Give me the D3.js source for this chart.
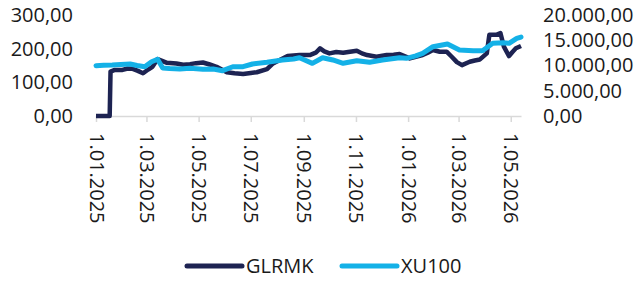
<!DOCTYPE html>
<html><head><meta charset="utf-8">
<script src="https://cdn.jsdelivr.net/npm/d3@7"></script>
<style>
html,body{margin:0;padding:0;background:#fff;}
svg{display:block;font-family:"Open Sans",sans-serif;}
</style></head>
<body><svg id="c" width="639" height="285"></svg>
<script>
const glrmkDates = ["2025-01-01","2025-01-10","2025-01-17","2025-01-18","2025-01-23","2025-02-01","2025-02-07","2025-02-13","2025-02-19","2025-02-25","2025-03-03","2025-03-08","2025-03-14","2025-03-20","2025-03-25","2025-04-05","2025-04-13","2025-04-21","2025-04-28","2025-05-06","2025-05-14","2025-05-22","2025-06-03","2025-06-12","2025-06-22","2025-07-01","2025-07-08","2025-07-20","2025-07-27","2025-08-05","2025-08-13","2025-08-27","2025-09-08","2025-09-15","2025-09-20","2025-09-25","2025-10-01","2025-10-09","2025-10-17","2025-10-25","2025-11-02","2025-11-08","2025-11-14","2025-11-25","2025-12-07","2025-12-15","2025-12-22","2026-01-03","2026-01-10","2026-01-18","2026-01-24","2026-01-30","2026-02-07","2026-02-15","2026-02-21","2026-02-27","2026-03-05","2026-03-14","2026-03-20","2026-03-26","2026-04-03","2026-04-06","2026-04-14","2026-04-19","2026-04-23","2026-04-29","2026-05-03","2026-05-07","2026-05-13"];
const glrmkValues = [0,0,0,132,137,137,141,140,134,127,138,146,169,163,158,156,152,154,157,159,153,146,130,127,125,128,130,139,156,168,178,181,181,188,201,192,186,190,188,191,194,186,181,176,181,182,184,171,176,181,188,196,191,191,176,160,151,161,165,168,186,241,241,246,206,178,190,201,208];
const xuDates = ["2025-01-01","2025-01-10","2025-01-20","2025-01-30","2025-02-10","2025-02-18","2025-02-27","2025-03-07","2025-03-14","2025-03-20","2025-03-28","2025-04-09","2025-04-21","2025-05-06","2025-05-18","2025-05-29","2025-06-10","2025-06-22","2025-07-03","2025-07-20","2025-08-07","2025-08-20","2025-08-27","2025-08-31","2025-09-11","2025-09-23","2025-10-05","2025-10-17","2025-11-02","2025-11-17","2025-12-02","2025-12-22","2025-12-30","2026-01-10","2026-01-18","2026-01-30","2026-02-16","2026-03-02","2026-03-18","2026-03-29","2026-04-10","2026-04-22","2026-04-29","2026-05-08","2026-05-13"];
const xuValues = [9960,10050,10100,10200,10300,10000,9760,10750,11230,9500,9400,9300,9440,9250,9300,8970,9760,9760,10300,10630,11090,11300,11540,11230,10430,11540,11090,10430,10950,10630,11090,11540,11420,11900,12410,13720,14260,13070,12930,12930,14390,14510,14390,15380,15640];
const xTickDates = ["2025-01-01","2025-03-01","2025-05-01","2025-07-01","2025-09-01","2025-11-01","2026-01-01","2026-03-01","2026-05-01"];
const leftTicks = [0,100,200,300];
const rightTicks = [0,5000,10000,15000,20000];
const seriesNames = ["GLRMK","XU100"];
const colors = ["#1d2352","#14b1e7"];

const parse = d3.timeParse("%Y-%m-%d");
const svg = d3.select("#c");
const g1 = glrmkDates.map((d,i)=>({date:parse(d),v:glrmkValues[i]}));
const g2 = xuDates.map((d,i)=>({date:parse(d),v:xuValues[i]}));

const x = d3.scaleTime().domain([parse("2025-01-01"), parse("2026-05-13")]).range([96, 521]);
const yL = d3.scaleLinear().domain([0,300]).range([116,15]);
const yR = d3.scaleLinear().domain([0,20000]).range([116,15]);

const fmt = d3.formatLocale({decimal:",",thousands:".",grouping:[3],currency:["",""]}).format(",.2f");

// x axis
const xa = svg.append("g").attr("transform","translate(0,116)")
  .call(d3.axisBottom(x).tickValues(xTickDates.map(parse)).tickSize(6).tickSizeOuter(0)
    .tickFormat(d=>d3.timeFormat("%-d.%m.%Y")(d)));
xa.select(".domain").attr("stroke","#d9d9d9").attr("stroke-width",1.5);
xa.selectAll(".tick line").attr("stroke","#d9d9d9").attr("stroke-width",1.5);
xa.selectAll(".tick text").attr("transform","rotate(90)").attr("text-anchor","start")
  .attr("x",17).attr("y",0).attr("dy","0.35em").attr("font-size",20).attr("fill","#1a1a1a")
  .attr("font-family","Open Sans");

// left axis
const la = svg.append("g").attr("transform","translate(73,0)")
  .call(d3.axisLeft(yL).tickValues(leftTicks).tickSize(0).tickPadding(0).tickFormat(fmt));
la.select(".domain").remove();
la.selectAll("text").attr("font-size",20).attr("fill","#1a1a1a").attr("font-family","Open Sans");

// right axis
const ra = svg.append("g").attr("transform","translate(543,0)")
  .call(d3.axisRight(yR).tickValues(rightTicks).tickSize(0).tickPadding(0).tickFormat(fmt));
ra.select(".domain").remove();
ra.selectAll("text").attr("font-size",20).attr("fill","#1a1a1a").attr("font-family","Open Sans");

// lines
svg.append("path").datum(g1).attr("fill","none").attr("stroke",colors[0]).attr("stroke-width",4.5)
  .attr("stroke-linejoin","round")
  .attr("d",d3.line().x(d=>x(d.date)).y(d=>yL(d.v)));
svg.append("path").datum(g2).attr("fill","none").attr("stroke",colors[1]).attr("stroke-width",5)
  .attr("stroke-linejoin","round").attr("stroke-linecap","round")
  .attr("d",d3.line().x(d=>x(d.date)).y(d=>yR(d.v)));

// legend
const leg = svg.append("g");
const legX = [187,342];
seriesNames.forEach((n,i)=>{
  leg.append("line").attr("x1",legX[i]).attr("x2",legX[i]+55).attr("y1",266).attr("y2",266)
    .attr("stroke",colors[i]).attr("stroke-width",5).attr("stroke-linecap","round");
  leg.append("text").attr("x",legX[i]+59).attr("y",266).attr("dy","0.35em")
    .attr("font-size",20).attr("fill","#1a1a1a").text(n);
});
</script></body></html>
